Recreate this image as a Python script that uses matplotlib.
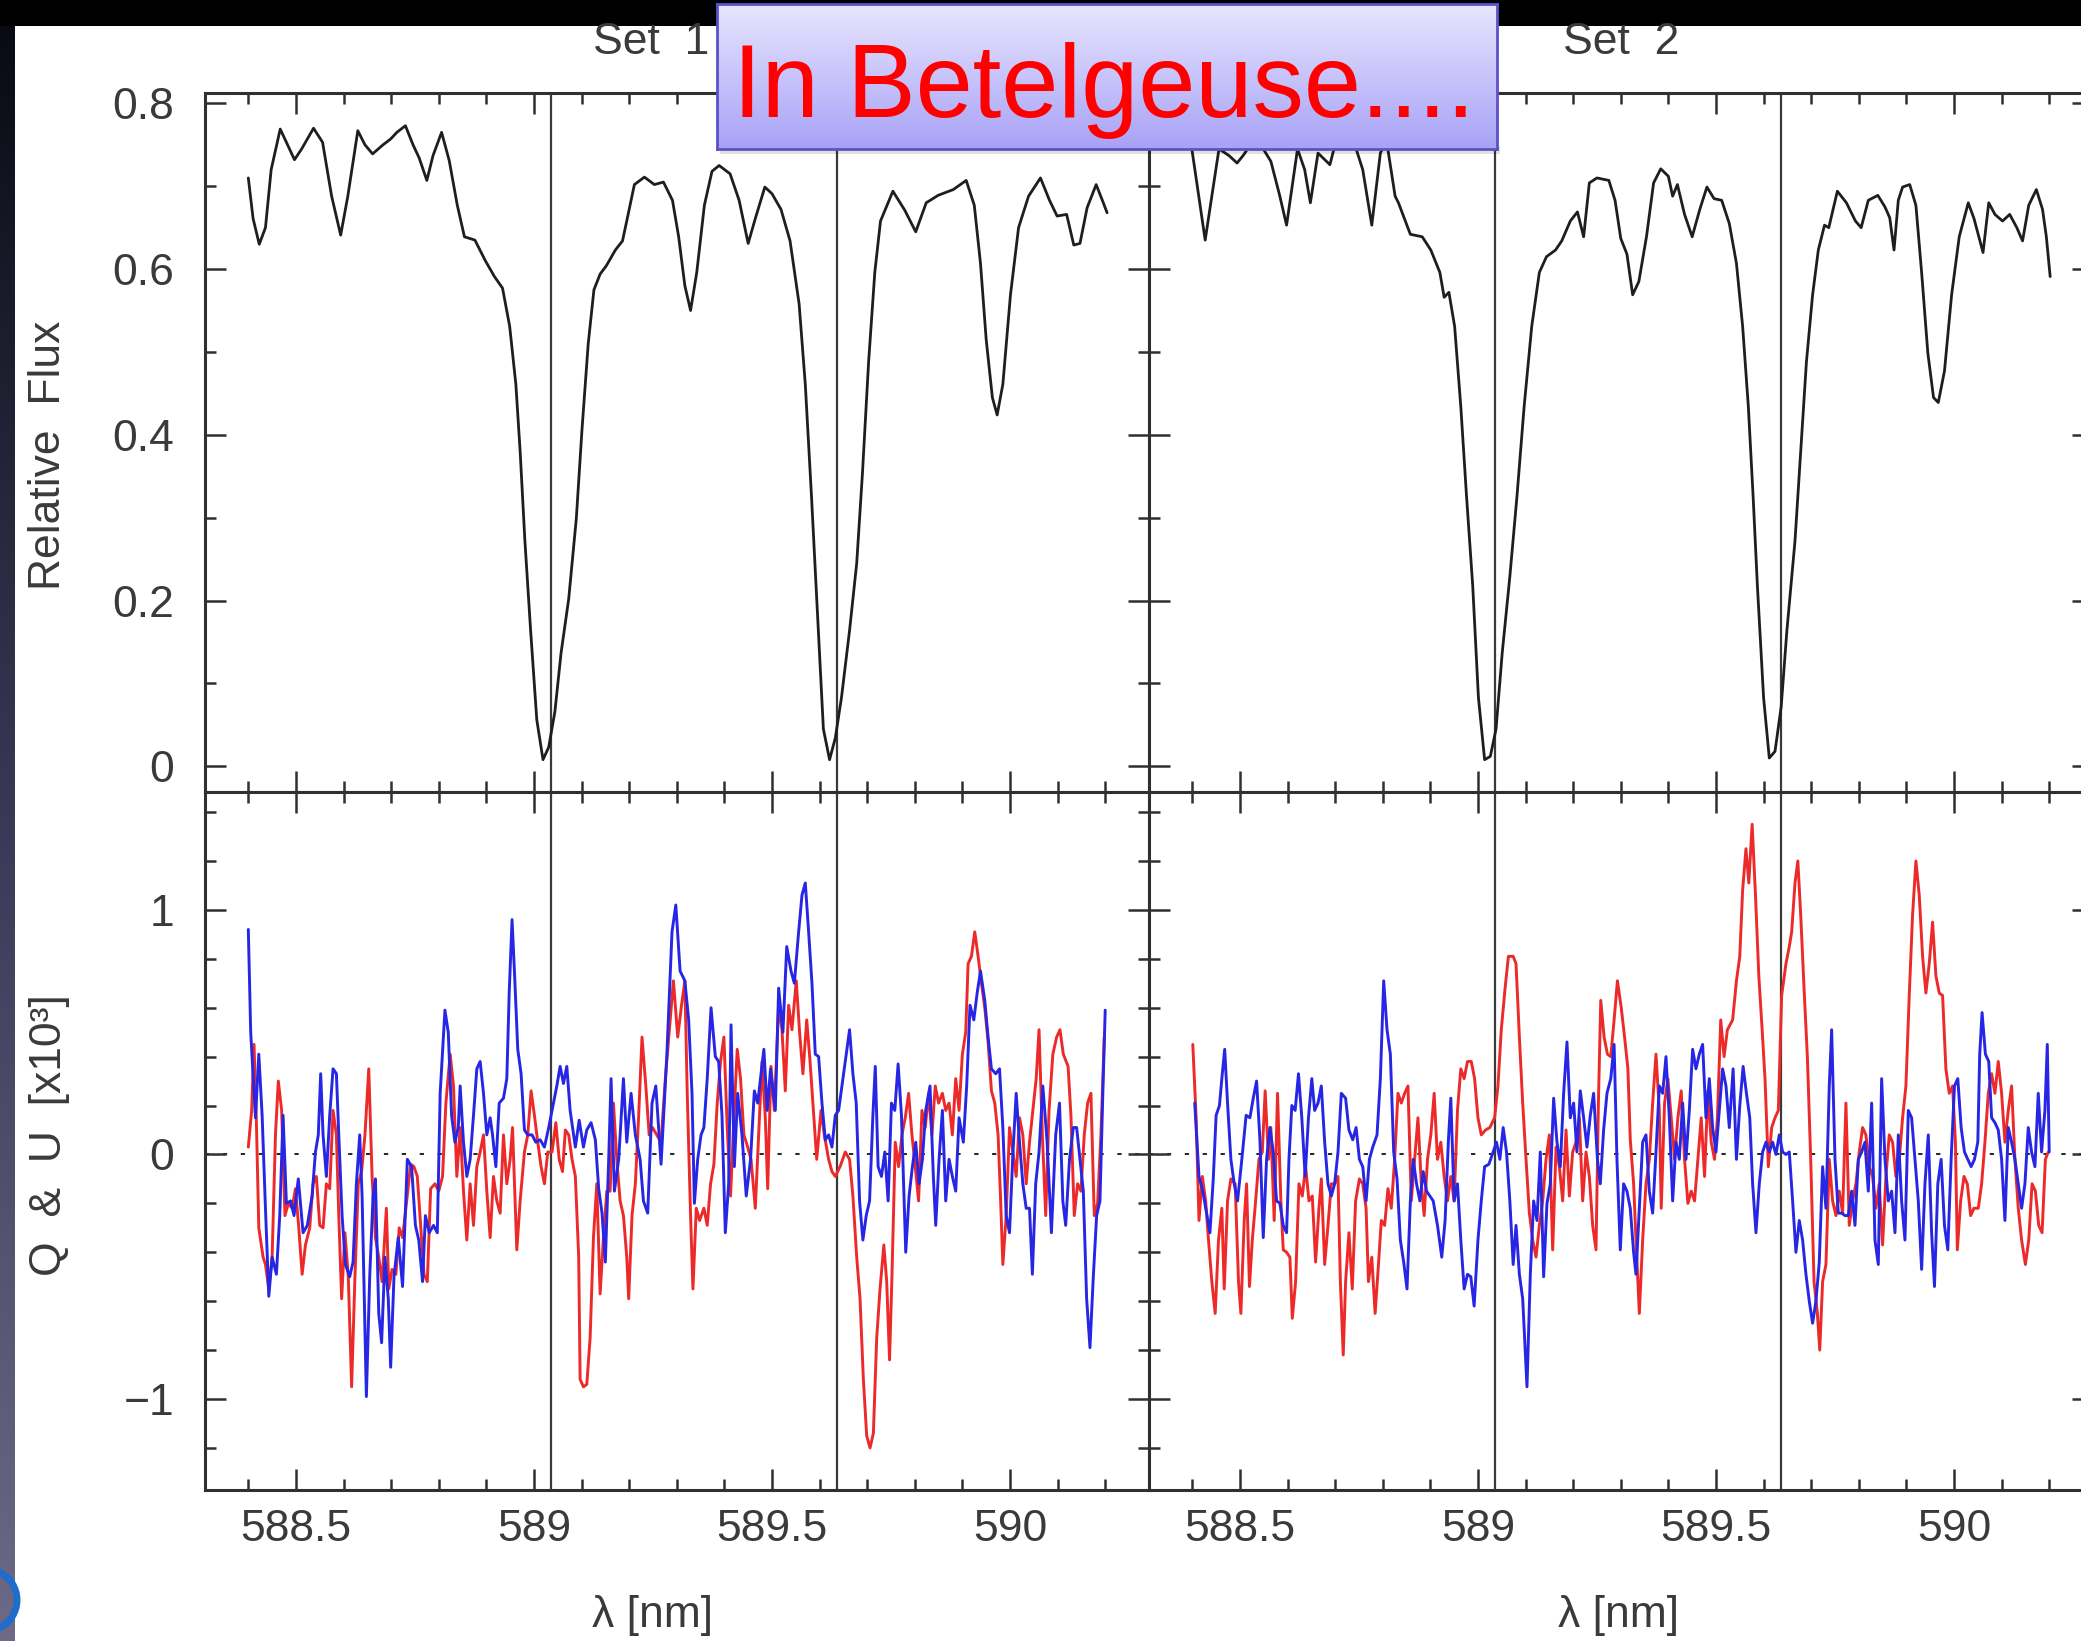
import numpy as np
import matplotlib
matplotlib.use('Agg')
import matplotlib.pyplot as plt
from matplotlib.ticker import MultipleLocator, FuncFormatter
from matplotlib.patches import Rectangle, Arc
from matplotlib.transforms import IdentityTransform
from matplotlib.colors import LinearSegmentedColormap

# ---------------- data ----------------
na_lines = [589.036, 589.636]

flux1_wl = [588.400, 588.410, 588.423, 588.436, 588.448, 588.467, 588.480, 588.497, 588.512, 588.537,
            588.556, 588.575, 588.594, 588.609, 588.630, 588.645, 588.661, 588.683, 588.699, 588.712,
            588.730, 588.746, 588.759, 588.775, 588.788, 588.806, 588.822, 588.839, 588.854, 588.876,
            588.898, 588.917, 588.934, 588.949, 588.962, 588.971, 588.981, 588.993, 589.006, 589.019,
            589.031, 589.044, 589.057, 589.073, 589.089, 589.101, 589.114, 589.126, 589.139, 589.152,
            589.171, 589.186, 589.196, 589.211, 589.232, 589.253, 589.272, 589.291, 589.304, 589.317,
            589.329, 589.342, 589.358, 589.374, 589.389, 589.412, 589.431, 589.450, 589.465, 589.485,
            589.500, 589.519, 589.538, 589.557, 589.570, 589.583, 589.595, 589.608, 589.621, 589.633,
            589.646, 589.663, 589.678, 589.690, 589.703, 589.716, 589.728, 589.754, 589.779, 589.802,
            589.824, 589.849, 589.881, 589.908, 589.925, 589.938, 589.950, 589.963, 589.973, 589.985,
            590.001, 590.018, 590.039, 590.064, 590.083, 590.099, 590.119, 590.134, 590.147, 590.162,
            590.181, 590.194, 590.204]
flux1 = [0.710, 0.661, 0.630, 0.650, 0.720, 0.769, 0.753, 0.732, 0.745, 0.770,
         0.753, 0.688, 0.641, 0.688, 0.767, 0.750, 0.739, 0.750, 0.757, 0.765,
         0.773, 0.750, 0.734, 0.707, 0.737, 0.765, 0.731, 0.677, 0.639, 0.635,
         0.610, 0.591, 0.577, 0.531, 0.461, 0.380, 0.272, 0.164, 0.056, 0.008,
         0.023, 0.066, 0.137, 0.202, 0.299, 0.407, 0.510, 0.575, 0.594, 0.604,
         0.623, 0.634, 0.661, 0.702, 0.711, 0.702, 0.705, 0.683, 0.639, 0.580,
         0.550, 0.596, 0.677, 0.718, 0.725, 0.715, 0.683, 0.631, 0.661, 0.699,
         0.691, 0.672, 0.634, 0.558, 0.461, 0.326, 0.191, 0.045, 0.008, 0.034,
         0.083, 0.164, 0.245, 0.353, 0.488, 0.596, 0.658, 0.694, 0.671, 0.645,
         0.680, 0.689, 0.696, 0.707, 0.677, 0.607, 0.515, 0.445, 0.424, 0.461,
         0.569, 0.650, 0.688, 0.710, 0.683, 0.664, 0.666, 0.629, 0.631, 0.674,
         0.702, 0.683, 0.668]

flux2_wl = [588.399, 588.427, 588.456, 588.477, 588.494, 588.508, 588.533, 588.565, 588.583, 588.598,
            588.621, 588.636, 588.648, 588.664, 588.689, 588.702, 588.733, 588.758, 588.777, 588.795,
            588.808, 588.826, 588.833, 588.858, 588.883, 588.901, 588.920, 588.929, 588.939, 588.951,
            588.964, 588.976, 588.989, 589.001, 589.014, 589.026, 589.038, 589.051, 589.067, 589.082,
            589.097, 589.113, 589.129, 589.144, 589.163, 589.176, 589.194, 589.209, 589.222, 589.234,
            589.250, 589.275, 589.288, 589.300, 589.313, 589.325, 589.338, 589.354, 589.369, 589.384,
            589.400, 589.409, 589.419, 589.434, 589.450, 589.466, 589.481, 589.496, 589.512, 589.528,
            589.543, 589.556, 589.568, 589.578, 589.587, 589.600, 589.612, 589.624, 589.637, 589.649,
            589.666, 589.678, 589.690, 589.703, 589.715, 589.728, 589.737, 589.755, 589.774, 589.793,
            589.805, 589.820, 589.840, 589.855, 589.865, 589.874, 589.883, 589.892, 589.907, 589.920,
            589.932, 589.945, 589.957, 589.967, 589.980, 589.995, 590.011, 590.030, 590.042, 590.061,
            590.073, 590.086, 590.102, 590.117, 590.132, 590.144, 590.157, 590.173, 590.186, 590.194,
            590.202]
flux2 = [0.745, 0.635, 0.745, 0.737, 0.728, 0.738, 0.760, 0.730, 0.690, 0.653,
         0.745, 0.720, 0.680, 0.740, 0.726, 0.755, 0.765, 0.720, 0.653, 0.740,
         0.755, 0.688, 0.680, 0.642, 0.639, 0.623, 0.596, 0.566, 0.572, 0.531,
         0.434, 0.326, 0.218, 0.083, 0.008, 0.012, 0.045, 0.137, 0.229, 0.326,
         0.434, 0.531, 0.596, 0.615, 0.623, 0.634, 0.658, 0.669, 0.639, 0.704,
         0.710, 0.707, 0.683, 0.637, 0.618, 0.569, 0.585, 0.639, 0.704, 0.721,
         0.712, 0.688, 0.702, 0.666, 0.639, 0.672, 0.699, 0.685, 0.683, 0.655,
         0.607, 0.531, 0.434, 0.326, 0.218, 0.083, 0.010, 0.018, 0.072, 0.164,
         0.272, 0.380, 0.488, 0.569, 0.623, 0.653, 0.650, 0.694, 0.680, 0.658,
         0.650, 0.683, 0.689, 0.675, 0.662, 0.623, 0.683, 0.699, 0.702, 0.677,
         0.596, 0.499, 0.445, 0.439, 0.477, 0.569, 0.639, 0.680, 0.661, 0.620,
         0.680, 0.666, 0.658, 0.666, 0.650, 0.634, 0.677, 0.696, 0.672, 0.639,
         0.591]

# Set 1, blue polarisation curve
blue1_wl = [588.400, 588.405, 588.412, 588.415, 588.422, 588.429, 588.436, 588.443, 588.450, 588.459,
            588.466, 588.473, 588.480, 588.489, 588.496, 588.505, 588.515, 588.524, 588.534, 588.541,
            588.547, 588.552, 588.557, 588.564, 588.571, 588.578, 588.585, 588.590, 588.597, 588.604,
            588.613, 588.620, 588.627, 588.634, 588.639, 588.648, 588.655, 588.662, 588.667, 588.674,
            588.680, 588.687, 588.694, 588.699, 588.706, 588.715, 588.724, 588.734, 588.743, 588.751,
            588.758, 588.766, 588.772, 588.780, 588.789, 588.797, 588.803, 588.813, 588.820, 588.827,
            588.834, 588.841, 588.845, 588.852, 588.859, 588.866, 588.873, 588.880, 588.887, 588.894,
            588.901, 588.908, 588.913, 588.920, 588.927, 588.936, 588.943, 588.948, 588.954, 588.959,
            588.966, 588.973, 588.980, 588.987, 588.996, 589.004, 589.013, 589.022, 589.031, 589.041,
            589.048, 589.055, 589.062, 589.069, 589.076, 589.087, 589.095, 589.104, 589.111, 589.120,
            589.129, 589.136, 589.143, 589.150, 589.157, 589.162, 589.169, 589.178, 589.188, 589.195,
            589.204, 589.213, 589.223, 589.230, 589.239, 589.248, 589.256, 589.267, 589.279, 589.290,
            589.298, 589.307, 589.317, 589.325, 589.332, 589.337, 589.344, 589.351, 589.357, 589.364,
            589.372, 589.381, 589.388, 589.395, 589.402, 589.409, 589.414, 589.421, 589.428, 589.437,
            589.446, 589.455, 589.463, 589.470, 589.476, 589.483, 589.490, 589.497, 589.507, 589.514,
            589.523, 589.531, 589.540, 589.547, 589.556, 589.563, 589.570, 589.577, 589.584, 589.591,
            589.598, 589.605, 589.612, 589.619, 589.626, 589.633, 589.640, 589.649, 589.656, 589.663,
            589.670, 589.677, 589.684, 589.691, 589.698, 589.705, 589.712, 589.717, 589.723, 589.730,
            589.737, 589.744, 589.751, 589.758, 589.765, 589.772, 589.781, 589.788, 589.795, 589.802,
            589.809, 589.816, 589.823, 589.832, 589.839, 589.844, 589.851, 589.858, 589.865, 589.872,
            589.879, 589.886, 589.893, 589.902, 589.909, 589.916, 589.924, 589.931, 589.938, 589.947,
            589.954, 589.961, 589.970, 589.978, 589.985, 589.992, 589.999, 590.006, 590.013, 590.020,
            590.027, 590.034, 590.041, 590.047, 590.054, 590.061, 590.069, 590.078, 590.087, 590.096,
            590.104, 590.111, 590.117, 590.125, 590.133, 590.140, 590.147, 590.154, 590.161, 590.168,
            590.175, 590.182, 590.189, 590.195, 590.200]
blue1 = [0.92, 0.50, 0.25, 0.15, 0.41, 0.16, -0.22, -0.58, -0.42, -0.49,
         -0.25, 0.16, -0.20, -0.19, -0.25, -0.10, -0.32, -0.29, -0.17, 0.01,
         0.08, 0.33, 0.08, -0.09, 0.16, 0.35, 0.33, 0.08, -0.25, -0.45,
         -0.50, -0.44, -0.12, 0.08, -0.17, -0.99, -0.50, -0.17, -0.10, -0.65,
         -0.77, -0.42, -0.59, -0.87, -0.50, -0.34, -0.54, -0.02, -0.05, -0.29,
         -0.35, -0.52, -0.25, -0.32, -0.29, -0.32, 0.25, 0.59, 0.50, 0.16,
         0.05, 0.11, 0.28, 0.05, -0.09, -0.02, 0.16, 0.35, 0.38, 0.25,
         0.08, 0.15, 0.08, -0.05, 0.21, 0.23, 0.31, 0.66, 0.96, 0.75,
         0.43, 0.33, 0.10, 0.08, 0.08, 0.05, 0.06, 0.03, 0.11, 0.21,
         0.28, 0.36, 0.29, 0.36, 0.18, 0.03, 0.14, 0.03, 0.10, 0.13,
         0.06, -0.14, -0.24, -0.44, -0.02, 0.31, -0.15, -0.02, 0.31, 0.05,
         0.25, 0.08, -0.02, -0.19, -0.24, 0.21, 0.28, -0.04, 0.40, 0.91,
         1.02, 0.75, 0.71, 0.55, 0.25, -0.20, -0.02, 0.08, 0.11, 0.31,
         0.60, 0.40, 0.38, 0.16, -0.32, -0.12, 0.53, -0.05, 0.25, 0.08,
         -0.17, -0.02, 0.26, 0.21, 0.31, 0.43, 0.18, 0.35, 0.18, 0.68,
         0.50, 0.85, 0.75, 0.70, 0.91, 1.06, 1.11, 0.91, 0.70, 0.41,
         0.40, 0.21, 0.06, 0.08, 0.03, 0.16, 0.18, 0.31, 0.41, 0.51,
         0.33, 0.21, -0.19, -0.35, -0.25, -0.19, 0.16, 0.36, -0.05, -0.09,
         0.01, -0.19, 0.21, 0.18, 0.37, 0.16, -0.40, -0.17, -0.05, 0.05,
         -0.12, -0.02, 0.18, 0.28, -0.09, -0.29, -0.02, 0.18, -0.19, -0.02,
         -0.09, -0.15, 0.15, 0.05, 0.28, 0.61, 0.55, 0.66, 0.75, 0.63,
         0.48, 0.35, 0.33, 0.35, 0.11, -0.25, -0.32, 0.00, 0.25, 0.05,
         -0.12, -0.22, -0.22, -0.49, -0.12, 0.01, 0.28, 0.05, -0.32, 0.08,
         0.21, -0.19, -0.29, -0.02, 0.11, 0.11, -0.02, -0.15, -0.59, -0.79,
         -0.50, -0.25, -0.19, 0.25, 0.59]

# Set 1, red polarisation curve
red1_wl = [588.400, 588.407, 588.412, 588.417, 588.422, 588.431, 588.436, 588.443, 588.450, 588.457,
           588.463, 588.470, 588.477, 588.484, 588.492, 588.499, 588.506, 588.513, 588.520, 588.529,
           588.536, 588.543, 588.550, 588.557, 588.564, 588.571, 588.578, 588.585, 588.590, 588.596,
           588.603, 588.610, 588.617, 588.624, 588.631, 588.638, 588.645, 588.653, 588.660, 588.667,
           588.674, 588.681, 588.690, 588.695, 588.702, 588.710, 588.717, 588.724, 588.731, 588.741,
           588.748, 588.755, 588.762, 588.769, 588.776, 588.783, 588.792, 588.800, 588.808, 588.815,
           588.824, 588.831, 588.838, 588.845, 588.852, 588.859, 588.866, 588.873, 588.880, 588.887,
           588.894, 588.901, 588.908, 588.915, 588.922, 588.929, 588.936, 588.943, 588.950, 588.955,
           588.964, 588.971, 588.980, 588.987, 588.994, 589.001, 589.008, 589.015, 589.022, 589.029,
           589.038, 589.046, 589.053, 589.060, 589.066, 589.073, 589.080, 589.087, 589.094, 589.097,
           589.104, 589.111, 589.118, 589.125, 589.132, 589.139, 589.146, 589.153, 589.160, 589.167,
           589.174, 589.181, 589.188, 589.195, 589.199, 589.206, 589.213, 589.220, 589.227, 589.235,
           589.242, 589.249, 589.258, 589.267, 589.276, 589.284, 589.293, 589.302, 589.310, 589.317,
           589.322, 589.329, 589.334, 589.341, 589.348, 589.357, 589.364, 589.371, 589.378, 589.385,
           589.392, 589.399, 589.406, 589.413, 589.420, 589.427, 589.434, 589.441, 589.449, 589.456,
           589.465, 589.472, 589.479, 589.486, 589.491, 589.498, 589.505, 589.514, 589.521, 589.528,
           589.535, 589.542, 589.551, 589.558, 589.565, 589.573, 589.580, 589.587, 589.594, 589.603,
           589.610, 589.619, 589.626, 589.633, 589.643, 589.654, 589.663, 589.670, 589.678, 589.685,
           589.692, 589.699, 589.706, 589.713, 589.720, 589.727, 589.735, 589.741, 589.747, 589.752,
           589.759, 589.766, 589.773, 589.780, 589.787, 589.794, 589.801, 589.808, 589.815, 589.822,
           589.829, 589.836, 589.843, 589.850, 589.858, 589.865, 589.872, 589.879, 589.886, 589.893,
           589.900, 589.907, 589.912, 589.919, 589.926, 589.933, 589.940, 589.947, 589.954, 589.961,
           589.968, 589.975, 589.980, 589.985, 589.992, 589.999, 590.006, 590.013, 590.020, 590.027,
           590.034, 590.041, 590.048, 590.055, 590.061, 590.068, 590.075, 590.082, 590.090, 590.098,
           590.105, 590.112, 590.122, 590.128, 590.135, 590.142, 590.149, 590.156, 590.163, 590.170,
           590.177, 590.184, 590.191, 590.198]
red1 = [0.03, 0.18, 0.45, 0.13, -0.30, -0.42, -0.45, -0.55, -0.42, 0.08,
        0.30, 0.18, -0.25, -0.20, -0.22, -0.14, -0.30, -0.49, -0.37, -0.30,
        -0.12, -0.09, -0.29, -0.30, -0.12, -0.14, 0.18, 0.08, -0.25, -0.59,
        -0.32, -0.50, -0.95, -0.50, -0.12, -0.07, 0.08, 0.35, -0.09, -0.34,
        -0.42, -0.52, -0.22, -0.55, -0.47, -0.49, -0.30, -0.34, -0.22, -0.04,
        -0.05, -0.09, -0.29, -0.49, -0.52, -0.14, -0.12, -0.15, -0.09, 0.21,
        0.41, 0.28, -0.09, 0.11, -0.15, -0.35, -0.12, -0.29, -0.05, 0.01,
        0.08, -0.15, -0.34, -0.09, -0.19, -0.24, 0.08, -0.12, -0.02, 0.11,
        -0.39, -0.19, 0.01, 0.08, 0.26, 0.16, 0.05, -0.05, -0.12, 0.01,
        0.01, 0.13, -0.02, -0.07, 0.10, 0.08, -0.02, -0.09, -0.42, -0.92,
        -0.95, -0.94, -0.75, -0.34, -0.12, -0.57, -0.34, -0.15, -0.15, 0.21,
        -0.02, -0.19, -0.25, -0.42, -0.59, -0.25, -0.12, 0.16, 0.48, 0.28,
        0.08, 0.11, 0.08, 0.05, 0.31, 0.50, 0.71, 0.48, 0.61, 0.71,
        0.25, -0.25, -0.55, -0.22, -0.27, -0.22, -0.29, -0.12, -0.04, 0.21,
        0.38, 0.48, 0.11, -0.17, 0.15, 0.43, 0.31, 0.08, 0.03, -0.02,
        -0.22, 0.08, 0.38, 0.15, -0.14, 0.36, 0.18, 0.61, 0.51, 0.26,
        0.61, 0.51, 0.71, 0.50, 0.33, 0.55, 0.38, 0.18, -0.02, 0.18,
        0.08, -0.02, -0.07, -0.09, -0.05, 0.01, -0.02, -0.17, -0.42, -0.59,
        -0.92, -1.15, -1.20, -1.14, -0.75, -0.55, -0.37, -0.52, -0.84, -0.50,
        0.05, -0.05, 0.08, 0.15, 0.25, 0.08, -0.05, -0.19, 0.18, 0.11,
        0.25, 0.08, 0.28, 0.21, 0.25, 0.18, 0.21, 0.08, 0.31, 0.18,
        0.41, 0.50, 0.78, 0.81, 0.91, 0.81, 0.70, 0.60, 0.46, 0.26,
        0.21, 0.08, -0.17, -0.45, -0.25, 0.11, 0.01, -0.09, 0.15, 0.08,
        -0.12, 0.05, 0.18, 0.31, 0.51, 0.08, -0.25, 0.18, 0.41, 0.48,
        0.51, 0.41, 0.36, 0.16, -0.25, -0.12, -0.15, 0.08, 0.21, 0.25,
        -0.25, -0.20, 0.08, 0.48]

# Set 2, blue polarisation curve
blue2_wl = [588.405, 588.414, 588.422, 588.430, 588.437, 588.444, 588.450, 588.457, 588.462, 588.468,
            588.474, 588.481, 588.488, 588.495, 588.504, 588.513, 588.521, 588.528, 588.535, 588.542,
            588.549, 588.556, 588.563, 588.570, 588.577, 588.584, 588.591, 588.598, 588.603, 588.609,
            588.616, 588.623, 588.630, 588.637, 588.644, 588.651, 588.657, 588.664, 588.671, 588.678,
            588.685, 588.692, 588.699, 588.706, 588.713, 588.722, 588.729, 588.737, 588.744, 588.751,
            588.758, 588.765, 588.772, 588.779, 588.788, 588.795, 588.802, 588.809, 588.816, 588.823,
            588.830, 588.837, 588.844, 588.851, 588.858, 588.864, 588.871, 588.878, 588.885, 588.892,
            588.899, 588.906, 588.915, 588.924, 588.931, 588.938, 588.943, 588.950, 588.957, 588.964,
            588.971, 588.978, 588.985, 588.992, 589.000, 589.007, 589.014, 589.023, 589.032, 589.039,
            589.046, 589.053, 589.060, 589.067, 589.074, 589.080, 589.087, 589.094, 589.103, 589.110,
            589.117, 589.124, 589.131, 589.138, 589.145, 589.152, 589.159, 589.166, 589.173, 589.180,
            589.187, 589.194, 589.201, 589.208, 589.215, 589.222, 589.229, 589.236, 589.243, 589.251,
            589.257, 589.264, 589.271, 589.279, 589.286,
            589.292, 589.299, 589.306, 589.313, 589.320, 589.327, 589.332, 589.339, 589.346, 589.353,
            589.360, 589.367, 589.374, 589.381, 589.388, 589.395, 589.402, 589.409, 589.416, 589.423,
            589.430, 589.437, 589.444, 589.451, 589.458, 589.465, 589.472, 589.479, 589.486, 589.493,
            589.500, 589.507, 589.514, 589.521, 589.528, 589.536, 589.543, 589.550, 589.557, 589.564,
            589.571, 589.577, 589.584, 589.591, 589.598, 589.605, 589.612, 589.619, 589.626, 589.633,
            589.640, 589.647, 589.654, 589.661, 589.668, 589.675, 589.682, 589.689, 589.696, 589.703,
            589.710, 589.717, 589.724, 589.731, 589.738, 589.743, 589.750, 589.757, 589.764, 589.771,
            589.778, 589.785, 589.792, 589.799, 589.806, 589.813, 589.820, 589.827, 589.834, 589.841,
            589.848, 589.855, 589.862, 589.869, 589.876, 589.883, 589.890, 589.897, 589.904, 589.911,
            589.918, 589.925, 589.932, 589.939, 589.946, 589.953, 589.959, 589.966, 589.973, 589.980,
            589.987, 589.994, 590.001, 590.008, 590.015, 590.022, 590.029, 590.036, 590.043, 590.050,
            590.054, 590.059, 590.066, 590.073, 590.079, 590.086, 590.093, 590.100, 590.107, 590.114,
            590.121, 590.128, 590.135, 590.142, 590.149, 590.156, 590.163, 590.170, 590.177, 590.184,
            590.191, 590.196, 590.200]
blue2 = [0.21, -0.09, -0.15, -0.24, -0.32, -0.10, 0.16, 0.20, 0.31, 0.43,
         0.21, -0.02, -0.12, -0.19, -0.02, 0.16, 0.15, 0.23, 0.30, 0.06,
         -0.34, -0.02, 0.11, 0.01, -0.19, -0.20, -0.29, -0.32, -0.02, 0.20,
         0.18, 0.33, 0.15, -0.09, 0.15, 0.31, 0.18, 0.21, 0.28, 0.05,
         -0.12, -0.17, -0.12, 0.01, 0.25, 0.23, 0.10, 0.06, 0.11, -0.02,
         -0.05, -0.19, -0.02, 0.03, 0.08, 0.31, 0.71, 0.51, 0.41, 0.01,
         -0.10, -0.35, -0.44, -0.55, -0.19, -0.02, -0.12, -0.19, -0.07, -0.15,
         -0.17, -0.19, -0.29, -0.42, -0.27, 0.06, 0.23, -0.19, -0.12, -0.35,
         -0.55, -0.49, -0.50, -0.62, -0.35, -0.19, -0.05, -0.04, 0.01, 0.05,
         -0.02, 0.11, 0.01, -0.19, -0.45, -0.29, -0.49, -0.59, -0.95, -0.49,
         -0.19, -0.27, 0.01, -0.50, -0.20, -0.12, 0.23, 0.05, -0.05, 0.25,
         0.46, 0.15, 0.21, 0.01, 0.26, 0.15, 0.03, 0.16, 0.25, -0.02,
         -0.12, 0.10, 0.25, 0.31, 0.45,
         -0.02, -0.39, -0.12, -0.15, -0.22, -0.40, -0.49, -0.22, 0.05, 0.08,
         -0.15, -0.24, 0.01, 0.28, 0.25, 0.40, 0.15, -0.19, 0.05, -0.02,
         0.21, -0.02, 0.18, 0.43, 0.35, 0.41, 0.45, 0.15, 0.31, 0.11,
         0.01, 0.18, 0.35, 0.28, 0.11, 0.35, -0.02, 0.20, 0.36, 0.25,
         0.15, -0.12, -0.32, -0.12, 0.01, 0.05, 0.01, 0.05, 0.00, 0.08,
         0.01, 0.00, 0.01, -0.19, -0.40, -0.27, -0.35, -0.49, -0.60, -0.69,
         -0.60, -0.44, -0.05, -0.22, 0.28, 0.51, -0.02, -0.24, -0.24, -0.25,
         -0.25, -0.15, -0.29, -0.02, 0.01, 0.05, -0.15, 0.21, -0.35, -0.45,
         0.31, -0.02, -0.19, -0.15, -0.32, 0.08, -0.19, -0.35, 0.18, 0.15,
         -0.02, -0.19, -0.47, -0.12, 0.08, -0.32, -0.54, -0.12, -0.02, -0.29,
         -0.39, -0.02, 0.28, 0.31, 0.11, 0.01, -0.02, -0.05, -0.02, 0.05,
         0.41, 0.58, 0.41, 0.38, 0.15, 0.13, 0.10, -0.02, -0.27, 0.11,
         0.05, -0.02, -0.12, -0.22, -0.12, 0.11, 0.01, -0.05, 0.25, 0.01,
         0.18, 0.45, 0.01]

# Set 2, red polarisation curve
red2_wl = [588.401, 588.408, 588.414, 588.421, 588.428, 588.434, 588.441, 588.448, 588.455, 588.462,
           588.467, 588.474, 588.481, 588.490, 588.497, 588.502, 588.509, 588.514, 588.520, 588.526,
           588.533, 588.540, 588.547, 588.553, 588.560, 588.565, 588.572, 588.579, 588.586, 588.591,
           588.598, 588.605, 588.610, 588.617, 588.624, 588.631, 588.638, 588.645, 588.652, 588.659,
           588.666, 588.671, 588.678, 588.685, 588.692, 588.699, 588.706, 588.711, 588.717, 588.722,
           588.729, 588.736, 588.743, 588.751, 588.758, 588.765, 588.770, 588.777, 588.784, 588.791,
           588.797, 588.804, 588.811, 588.818, 588.825, 588.832, 588.839, 588.846, 588.853, 588.860,
           588.867, 588.874, 588.881, 588.887, 588.894, 588.901, 588.908, 588.915, 588.922, 588.929,
           588.936, 588.943, 588.950, 588.957, 588.964, 588.971, 588.978, 588.986, 588.993, 589.000,
           589.007, 589.016, 589.025, 589.035, 589.042, 589.049, 589.057, 589.064, 589.074, 589.080,
           589.087, 589.094, 589.101, 589.108, 589.115, 589.122, 589.129, 589.136, 589.143, 589.150,
           589.157, 589.164, 589.171, 589.178, 589.185, 589.192, 589.199, 589.206, 589.213, 589.220,
           589.227, 589.234, 589.241, 589.248, 589.253, 589.258, 589.265, 589.272, 589.279, 589.286,
           589.293,
           589.301, 589.308, 589.315, 589.320, 589.327, 589.332, 589.339, 589.346, 589.353, 589.360,
           589.367, 589.374, 589.381, 589.385, 589.392, 589.399, 589.406, 589.413, 589.420, 589.427,
           589.434, 589.441, 589.448, 589.455, 589.462, 589.469, 589.476, 589.483, 589.490, 589.497,
           589.503, 589.510, 589.517, 589.524, 589.535, 589.543, 589.550, 589.556, 589.563, 589.569,
           589.576, 589.583, 589.590, 589.597, 589.603, 589.610, 589.617, 589.624, 589.631, 589.638,
           589.647, 589.654, 589.659, 589.666, 589.672, 589.678, 589.685, 589.692, 589.699, 589.706,
           589.713, 589.718, 589.724, 589.731, 589.738, 589.745, 589.752, 589.759, 589.766, 589.773,
           589.780, 589.787, 589.794, 589.801, 589.808, 589.815, 589.822, 589.829, 589.836, 589.843,
           589.850, 589.857, 589.864, 589.871, 589.878, 589.885, 589.892, 589.899, 589.906, 589.913,
           589.920, 589.927, 589.934, 589.941, 589.948, 589.955, 589.962, 589.969, 589.976, 589.983,
           589.990, 589.997, 590.003, 590.007, 590.014, 590.021, 590.028, 590.035, 590.042, 590.051,
           590.058, 590.065, 590.072, 590.079, 590.086, 590.093, 590.100, 590.107, 590.114, 590.121,
           590.128, 590.135, 590.142, 590.150, 590.157, 590.164, 590.171, 590.178, 590.185, 590.192,
           590.198]
red2 = [0.45, 0.15, -0.27, -0.09, -0.19, -0.35, -0.52, -0.65, -0.35, -0.22,
        -0.55, -0.19, -0.10, -0.12, -0.52, -0.65, -0.27, -0.12, -0.54, -0.35,
        -0.19, -0.02, 0.01, 0.26, -0.02, 0.11, -0.27, 0.25, -0.19, -0.39,
        -0.40, -0.42, -0.67, -0.52, -0.12, -0.17, -0.05, -0.19, -0.17, -0.44,
        -0.22, -0.10, -0.45, -0.29, -0.12, -0.12, -0.09, -0.52, -0.82, -0.52,
        -0.32, -0.55, -0.19, -0.10, -0.12, -0.22, -0.52, -0.42, -0.65, -0.45,
        -0.27, -0.29, -0.14, -0.22, -0.02, 0.25, 0.21, 0.25, 0.28, -0.19,
        -0.02, 0.15, -0.12, -0.25, -0.02, 0.08, 0.25, -0.02, 0.05, -0.09,
        -0.19, -0.09, -0.19, 0.18, 0.35, 0.31, 0.38, 0.38, 0.31, 0.15,
        0.08, 0.10, 0.11, 0.15, 0.28, 0.51, 0.68, 0.81, 0.81, 0.78,
        0.48, 0.21, -0.02, -0.24, -0.35, -0.42, -0.29, -0.19, -0.02, 0.08,
        -0.39, 0.03, -0.05, -0.19, 0.10, -0.17, 0.01, 0.05, 0.15, -0.19,
        0.01, -0.09, -0.29, -0.39, 0.21, 0.63, 0.48, 0.41, 0.40, 0.55,
        0.71,
        0.60, 0.48, 0.35, 0.06, -0.12, -0.35, -0.65, -0.35, -0.12, -0.02,
        0.21, 0.41, 0.18, -0.22, 0.21, 0.31, 0.15, -0.02, 0.15, 0.26,
        -0.02, -0.20, -0.15, -0.19, -0.02, 0.15, -0.09, 0.26, 0.05, -0.02,
        0.15, 0.55, 0.40, 0.51, 0.55, 0.71, 0.81, 1.08, 1.25, 1.11,
        1.35, 1.06, 0.73, 0.51, 0.31, -0.05, 0.11, 0.15, 0.18, 0.65,
        0.78, 0.85, 0.91, 1.11, 1.20, 0.98, 0.68, 0.40, -0.02, -0.52,
        -0.65, -0.80, -0.52, -0.45, -0.02, -0.19, -0.25, -0.15, -0.24, 0.21,
        -0.29, -0.19, -0.12, 0.01, 0.11, 0.08, -0.05, -0.09, -0.22, -0.12,
        -0.37, -0.09, 0.08, 0.05, -0.09, -0.02, 0.15, 0.28, 0.65, 0.98,
        1.20, 1.06, 0.81, 0.66, 0.78, 0.95, 0.73, 0.66, 0.65, 0.35,
        0.25, 0.28, 0.05, -0.39, -0.19, -0.09, -0.12, -0.25, -0.22, -0.22,
        -0.12, 0.05, 0.25, 0.33, 0.25, 0.38, 0.25, 0.05, 0.18, 0.28,
        -0.02, -0.22, -0.35, -0.45, -0.35, -0.12, -0.15, -0.29, -0.32, -0.02,
        0.01]

set_titles = ['Set  1', 'Set  2']
title_text = 'In Betelgeuse....'

# ---------------- layout ----------------
W, H = 2081, 1641
fig = plt.figure(figsize=(W / 100, H / 100), dpi=100)
fig.patch.set_facecolor('white')

plt.rcParams['font.family'] = ['Liberation Sans', 'DejaVu Sans']
TXT = '#3a3a3a'
FS = 32


def fx(px):
    return px / W


def fy(py):
    return 1 - py / H


L0, L1 = 205, 1149
T0, MID, B0 = 93, 792, 1490

xlim = (588.309, 590.292)
ylim_top = (-0.031, 0.8125)
ylim_bot = (-1.372, 1.482)

BLUE = '#2626e4'
RED = '#ec2a2a'


def fmt(v, p):
    s = f'{round(v, 6):g}'
    if s == '-0':
        s = '0'
    return s.replace('-', '\u2212')


def style(ax, top):
    ax.set_xlim(*xlim)
    for sp in ax.spines.values():
        sp.set_linewidth(2.2)
        sp.set_color('#303030')
    ax.xaxis.set_major_locator(MultipleLocator(0.5))
    ax.xaxis.set_minor_locator(MultipleLocator(0.1))
    if top:
        ax.set_ylim(*ylim_top)
        ax.yaxis.set_major_locator(MultipleLocator(0.2))
        ax.yaxis.set_minor_locator(MultipleLocator(0.1))
    else:
        ax.set_ylim(*ylim_bot)
        ax.yaxis.set_major_locator(MultipleLocator(1.0))
        ax.yaxis.set_minor_locator(MultipleLocator(0.2))
    ax.xaxis.set_major_formatter(FuncFormatter(fmt))
    ax.yaxis.set_major_formatter(FuncFormatter(fmt))
    ax.tick_params(which='both', direction='in', top=True, right=True,
                   color='#303030', width=1.8, labelsize=FS, labelcolor=TXT)
    ax.tick_params(which='major', length=15)
    ax.tick_params(which='minor', length=8)
    ax.tick_params(axis='y', pad=22)
    ax.tick_params(axis='x', pad=14)
    for wl in na_lines:
        ax.axvline(wl, color='#3a3a3a', lw=1.6, zorder=1)


w = (L1 - L0) / W
h_top = (MID - T0) / H
h_bot = (B0 - MID) / H
axes = {}
for col, x0 in enumerate([L0, L1]):
    at = fig.add_axes([fx(x0), fy(MID), w, h_top])
    ab = fig.add_axes([fx(x0), fy(B0), w, h_bot])
    style(at, True)
    style(ab, False)
    at.tick_params(labelbottom=False)
    if col == 1:
        at.tick_params(labelleft=False)
        ab.tick_params(labelleft=False)
    ab.axhline(0, color='#222222', lw=1.4, ls=(0, (2.2, 7)), zorder=1)
    axes[col] = (at, ab)

# spectra
line_kw = dict(solid_joinstyle='round', solid_capstyle='round')
axes[0][0].plot(flux1_wl, flux1, color='#1e1e1e', lw=2.0, zorder=3, **line_kw)
axes[1][0].plot(flux2_wl, flux2, color='#1e1e1e', lw=2.0, zorder=3, **line_kw)

# polarisation
axes[0][1].plot(red1_wl, red1, color=RED, lw=2.1, zorder=3, **line_kw)
axes[0][1].plot(blue1_wl, blue1, color=BLUE, lw=2.1, zorder=4, **line_kw)
axes[1][1].plot(red2_wl, red2, color=RED, lw=2.1, zorder=3, **line_kw)
axes[1][1].plot(blue2_wl, blue2, color=BLUE, lw=2.1, zorder=4, **line_kw)

# axis labels and titles
fig.text(fx(49), fy(455), 'Relative  Flux', rotation=90, ha='center', va='center',
         fontsize=FS, color=TXT)
fig.text(fx(50), fy(1135), 'Q  &  U  [x10\u00b3]', rotation=90, ha='center', va='center',
         fontsize=FS, color=TXT)
fig.text(fx(652), fy(1616), '\u03bb [nm]', ha='center', va='center', fontsize=FS, color=TXT)
fig.text(fx(1619), fy(1616), '\u03bb [nm]', ha='center', va='center', fontsize=FS, color=TXT)
fig.text(fx(651), fy(42), set_titles[0], ha='center', va='center', fontsize=FS, color=TXT)
fig.text(fx(1621), fy(42), set_titles[1], ha='center', va='center', fontsize=FS, color=TXT)

# slide background pieces: black top strip, dark left strip, logo arc
fig.patches.append(Rectangle((0, fy(26)), 1, 26 / H, transform=fig.transFigure,
                             facecolor='black', edgecolor='none', zorder=0))
ax_strip = fig.add_axes([0, 0, 15 / W, 1 - 26 / H])
grad = np.linspace(0, 1, 256)[:, None]
strip_cmap = LinearSegmentedColormap.from_list('strip', ['#6c6a86', '#3a3a58', '#0a0a14'])
ax_strip.imshow(grad, aspect='auto', cmap=strip_cmap, origin='lower', extent=[0, 1, 0, 1])
ax_strip.set_axis_off()
fig.patches.append(Arc((-14, H - 1600), 62, 62, theta1=-70, theta2=70, lw=5,
                       color='#1e6ccc', transform=IdentityTransform(), zorder=5))

# title box with gradient
box = fig.add_axes([fx(717), fy(149), 780 / W, 145 / H])
box.set_zorder(10)
box_cmap = LinearSegmentedColormap.from_list('box', ['#a8a2f6', '#e8e6fe'])
box.imshow(grad, aspect='auto', cmap=box_cmap, origin='lower', extent=[0, 1, 0, 1])
box.set_xticks([])
box.set_yticks([])
for sp in box.spines.values():
    sp.set_color('#5a52c6')
    sp.set_linewidth(2)
fig.patches.append(Rectangle((fx(720), fy(154)), 780 / W, 8 / H, transform=fig.transFigure,
                             facecolor='#000000', alpha=0.12, edgecolor='none', zorder=9))
box.text(16 / 780, 32 / 145, title_text, transform=box.transAxes, ha='left', va='baseline',
         fontsize=74, color='#ff0000', family=['Liberation Sans', 'DejaVu Sans'],
         fontweight='normal')

fig.savefig('out.png', dpi=100, facecolor='white')
